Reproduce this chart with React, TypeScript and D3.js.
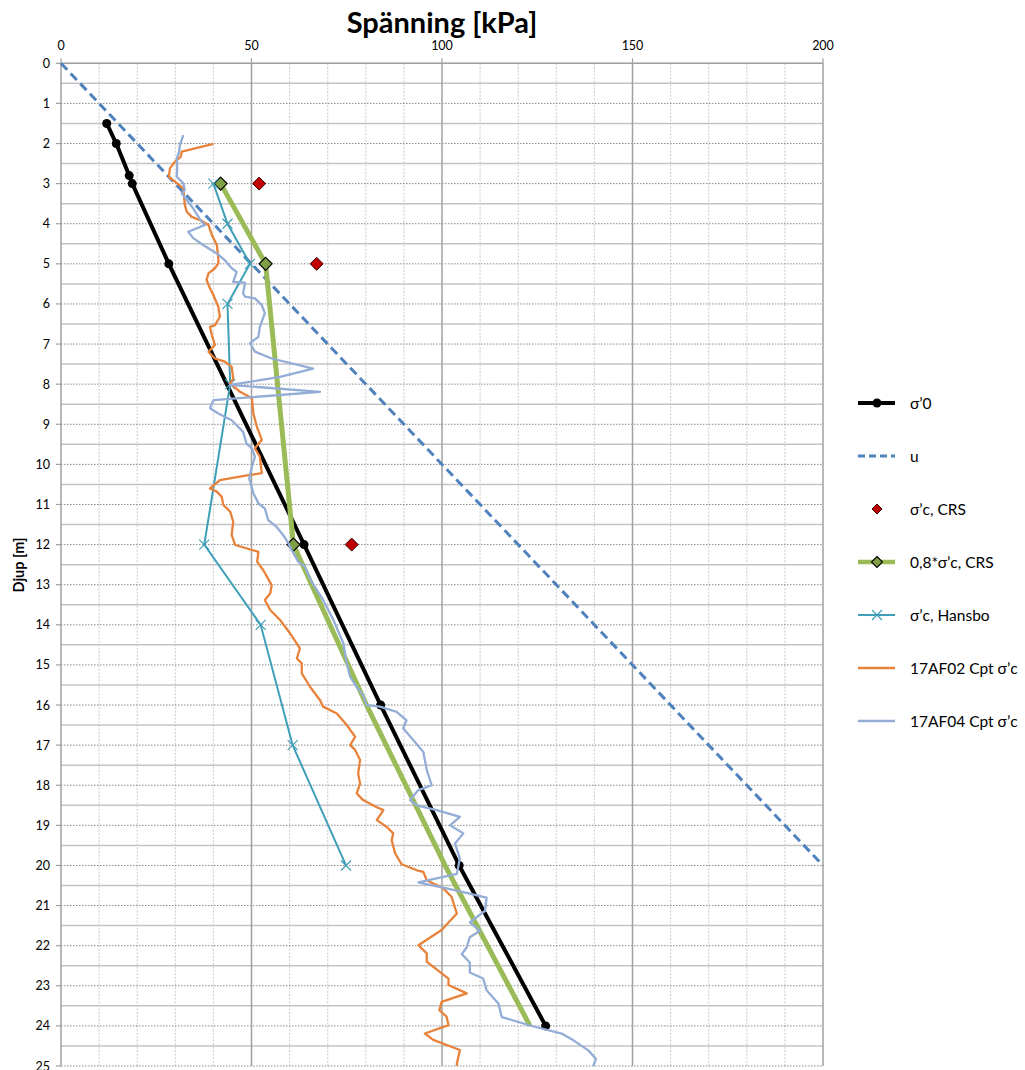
import * as d3 from "d3";

// values (kPa vs depth m)
const kpaTicks = [0, 50, 100, 150, 200];
const depthTicks = d3.range(0, 26);

const sigma0Depth = [1.5, 2, 2.8, 3, 5, 12, 16, 20, 24];
const sigma0Kpa = [12.0, 14.5, 17.9, 18.7, 28.3, 63.8, 83.9, 104.5, 127.2];

const uDepth = [0, 20];
const uKpa = [0, 200];

const crsDepth = [3, 5, 12];
const crsKpa = [52.0, 67.1, 76.3];

const crs08Depth = [3, 5, 12, 16, 20, 24];
const crs08Kpa = [41.9, 53.7, 61.0, 80.2, 100.8, 123.1];
const crs08Markers = [true, true, true, false, false, false];

const hansboDepth = [3, 4, 5, 6, 8, 12, 14, 17, 20];
const hansboKpa = [40.0, 43.7, 49.6, 43.7, 44.4, 37.6, 52.4, 60.8, 74.8];

const af02Depth = [
  2.01, 2.2, 2.33, 2.45, 2.62, 2.83, 2.95, 3.12, 3.53, 3.7, 3.83, 3.91, 4.03, 4.28, 4.53, 4.86, 4.99, 5.11,
  5.24, 5.4, 5.61, 5.78, 6.07, 6.32, 6.53, 6.57, 6.78, 7.02, 7.19, 7.36, 7.44, 7.57, 7.86, 7.98, 8.19, 8.35,
  8.73, 9.06, 9.39, 9.6, 9.81, 10.22, 10.27, 10.39, 10.6, 10.68, 10.81, 11.01, 11.18, 11.43, 11.76, 12.01,
  12.18, 12.43, 12.64, 13.01, 13.22, 13.38, 13.63, 13.88, 14.21, 14.59, 14.84, 14.96, 15.21, 15.55, 15.88,
  16.04, 16.21, 16.5, 16.79, 17.0, 17.12, 17.37, 17.71, 17.96, 18.2, 18.37, 18.55, 18.62, 18.87, 19.04, 19.2,
  19.37, 19.7, 19.97, 20.12, 20.16, 20.37, 20.57, 20.78, 21.2, 21.61, 21.99, 22.19, 22.4, 22.69, 22.82, 22.98,
  23.19, 23.4, 23.61, 23.77, 23.98, 24.19, 24.35, 24.6, 24.94, 25.0,
];
const af02Kpa = [
  40.0, 31.7, 31.4, 29.9, 28.6, 28.3, 29.9, 32.1, 32.5, 33.0, 34.3, 36.5, 38.7, 39.6, 40.9, 41.3, 41.3, 40.4,
  38.7, 38.2, 39.1, 40.0, 41.3, 41.7, 40.4, 39.1, 39.6, 40.4, 38.7, 40.4, 43.0, 44.8, 45.2, 44.4, 47.0, 50.1,
  50.5, 51.4, 52.7, 50.9, 52.2, 52.7, 49.2, 41.7, 39.1, 40.9, 42.2, 42.6, 44.4, 45.2, 44.8, 45.7,
  51.8, 51.5, 53.1, 55.3, 54.9, 53.5, 54.9, 57.5, 60.1, 62.7, 61.9, 63.2, 63.2, 65.4, 68.0,
  68.8, 72.4, 75.0, 77.2, 75.9, 77.2, 78.5, 78.0, 78.5, 77.6, 79.3, 82.9, 84.6, 82.9, 85.5, 87.2,
  86.8, 87.7, 89.4, 93.4, 95.1, 96.0, 100.3, 102.5, 103.9, 99.9, 93.8, 96.0, 96.0, 99.9, 101.7, 101.7,
  106.5, 99.9, 99.3, 101.2, 101.7, 95.5, 97.7, 104.7, 103.9, 103.9,
];

const af04Depth = [
  1.79, 2.04, 2.2, 2.37, 2.58, 2.83, 2.99, 3.16, 3.24, 3.41, 3.62, 3.95, 4.03, 4.2, 4.36, 4.53, 4.74, 4.91,
  5.11, 5.2, 5.45, 5.47, 5.74, 5.82, 5.86, 6.03, 6.23, 6.57, 6.82, 6.98, 7.19, 7.36, 7.61, 7.82, 8.02, 8.19,
  8.4, 8.6, 8.73, 8.9, 9.19, 9.48, 9.6, 9.81, 10.06, 10.35, 10.72, 10.97, 11.1, 11.39, 11.56, 11.76, 11.97,
  12.06, 12.43, 12.55, 12.93, 13.38, 13.88, 14.46, 14.96, 15.3, 15.55, 15.75, 16.0, 16.04, 16.17, 16.38,
  16.58, 16.88, 17.17, 17.62, 18.0, 18.12, 18.37, 18.5, 18.62, 18.79, 19.0, 19.2, 19.45, 19.83, 20.21, 20.42,
  20.63, 20.8, 21.13, 21.42, 21.63, 21.79, 22.04, 22.21, 22.42, 22.67, 22.82, 23.11, 23.44, 23.78, 23.99,
  24.19, 24.36, 24.61, 24.82, 25.0,
];
const af04Kpa = [
  32.1, 31.2, 31.0, 30.4, 30.5, 30.4, 32.1, 32.5, 31.7, 33.0, 34.7, 36.9, 37.8, 33.4, 34.7, 37.3, 40.9, 43.0,
  44.8, 46.1, 45.2, 48.3, 47.8, 48.3, 50.9, 52.7, 53.5, 52.2, 51.8, 49.6, 50.9, 55.3, 66.2, 57.5, 44.4, 68.0,
  40.0, 39.1, 41.3, 44.8, 47.8, 48.7, 50.1, 50.9, 50.1, 49.4, 50.5, 51.8, 53.5, 54.4, 56.6, 58.3, 59.7,
  60.1, 62.3, 64.0, 65.8, 68.8, 71.5, 74.1, 75.0, 75.9, 77.6, 79.3, 80.2, 83.7, 88.1, 90.7,
  89.8, 92.5, 95.1, 96.0, 97.3, 93.8, 91.6, 93.4, 98.6, 104.7, 102.1, 105.6, 103.4, 104.7, 103.9, 93.8,
  103.9, 111.7, 111.3, 107.3, 110.0, 107.3, 106.5, 105.2, 107.3, 107.3, 110.8, 111.7, 114.8, 115.7, 123.1,
  131.4, 134.5, 138.4, 140.4, 139.7,
];

const legendLabels = [
  "σ’0",
  "u",
  "σ’c, CRS",
  "0,8*σ’c, CRS",
  "σ’c, Hansbo",
  "17AF02 Cpt σ’c",
  "17AF04 Cpt σ’c",
];

const C_BLACK = "#000000";
const C_U = "#4f81bd";
const C_RED = "#c00000";
const C_GREEN = "#9bbb59";
const C_GREEN_MK = "#7f9f45";
const C_TEAL = "#3f9fb8";
const C_ORANGE = "#e8823a";
const C_LBLUE = "#93add6";

const FONT = "Lato, 'Open Sans', sans-serif";

const zip = (d: number[], k: number[]) => d.map((v, i) => ({ depth: v, kpa: k[i] }));

const diamond = (cx: number, cy: number, r: number) =>
  `M${cx},${cy - r}L${cx + r},${cy}L${cx},${cy + r}L${cx - r},${cy}Z`;

const cross = (cx: number, cy: number, r: number) =>
  `M${cx - r},${cy - r}L${cx + r},${cy + r}M${cx - r},${cy + r}L${cx + r},${cy - r}`;

export default function App() {
  const x = d3.scaleLinear().domain([0, 200]).range([61, 823]);
  const y = d3.scaleLinear().domain([0, 25]).range([63.3, 1066]);

  const line = d3
    .line<{ depth: number; kpa: number }>()
    .x((d) => x(d.kpa))
    .y((d) => y(d.depth));

  const sigma0 = zip(sigma0Depth, sigma0Kpa);
  const u = zip(uDepth, uKpa);
  const crs = zip(crsDepth, crsKpa);
  const crs08 = zip(crs08Depth, crs08Kpa);
  const hansbo = zip(hansboDepth, hansboKpa);
  const af02 = zip(af02Depth, af02Kpa);
  const af04 = zip(af04Depth, af04Kpa);

  const minorX = d3.range(0, 201, 10).filter((v) => v % 50 !== 0);
  const halfY = d3.range(0.5, 25, 1);

  // legend layout
  const legX0 = 858;
  const legX1 = 895;
  const legMid = 877;
  const legTextX = 910;
  const legY = (i: number) => 403 + i * 53;

  return (
    <svg
      width={1025}
      height={1070}
      style={{ position: "absolute", left: 0, top: 0, background: "#fff" }}
      fontFamily={FONT}
    >
      <rect x={0} y={0} width={1025} height={1070} fill="#fff" />

      {/* grid */}
      {minorX.map((v) => (
        <line key={"mx" + v} x1={x(v)} x2={x(v)} y1={y(0)} y2={y(25)} stroke="#d2d2d2" strokeWidth={1.2} strokeDasharray="2,1.5" />
      ))}
      {halfY.map((v) => (
        <line key={"hy" + v} x1={x(0)} x2={x(200)} y1={y(v)} y2={y(v)} stroke="#c4c4c4" strokeWidth={1.5} />
      ))}
      {depthTicks.map((v) => (
        <line key={"iy" + v} x1={x(0)} x2={x(200)} y1={y(v)} y2={y(v)} stroke="#8a8a8a" strokeWidth={1} strokeDasharray="1.5,1.5" />
      ))}
      {kpaTicks.map((v) => (
        <line key={"Mx" + v} x1={x(v)} x2={x(v)} y1={y(0)} y2={y(25)} stroke="#a0a0a0" strokeWidth={1.5} />
      ))}
      <line x1={x(0)} x2={x(200)} y1={y(0)} y2={y(0)} stroke="#a0a0a0" strokeWidth={1.5} />

      {/* axis ticks */}
      {depthTicks.map((v) => (
        <line key={"ty" + v} x1={x(0) - 5} x2={x(0)} y1={y(v)} y2={y(v)} stroke="#a0a0a0" strokeWidth={1.2} />
      ))}
      {kpaTicks.map((v) => (
        <line key={"tx" + v} x1={x(v)} x2={x(v)} y1={y(0) - 5} y2={y(0)} stroke="#a0a0a0" strokeWidth={1.2} />
      ))}

      {/* tick labels */}
      {kpaTicks.map((v) => (
        <text key={"lx" + v} x={x(v)} y={50} textAnchor="middle" fontSize={12.5} fill="#000">
          {v}
        </text>
      ))}
      {depthTicks.map((v) => (
        <text key={"ly" + v} x={50} y={y(v) + 4.5} textAnchor="end" fontSize={12.5} fill="#000">
          {v}
        </text>
      ))}

      {/* titles */}
      <text x={442} y={33} textAnchor="middle" fontSize={29} fontWeight="bold" fill="#000">
        Spänning [kPa]
      </text>
      <text
        transform={`translate(24, ${565}) rotate(-90)`}
        textAnchor="middle"
        fontSize={14.5}
        fontWeight="bold"
        fill="#000"
      >
        Djup [m]
      </text>

      {/* σ'0 */}
      <path d={line(sigma0) ?? ""} fill="none" stroke={C_BLACK} strokeWidth={4} strokeLinejoin="round" />
      {sigma0.map((d, i) => (
        <circle key={"s0" + i} cx={x(d.kpa)} cy={y(d.depth)} r={4.5} fill={C_BLACK} />
      ))}

      {/* u */}
      <path d={line(u) ?? ""} fill="none" stroke={C_U} strokeWidth={3} strokeDasharray="9,5" />

      {/* σ'c CRS */}
      {crs.map((d, i) => (
        <path key={"crs" + i} d={diamond(x(d.kpa), y(d.depth), 6.5)} fill={C_RED} stroke="#3a0000" strokeWidth={1} />
      ))}

      {/* 0,8*σ'c CRS */}
      <path d={line(crs08) ?? ""} fill="none" stroke={C_GREEN} strokeWidth={5} strokeLinejoin="round" />
      {crs08.map((d, i) =>
        crs08Markers[i] ? (
          <path key={"c08" + i} d={diamond(x(d.kpa), y(d.depth), 6.5)} fill={C_GREEN_MK} stroke="#000" strokeWidth={1.2} />
        ) : null
      )}

      {/* Hansbo */}
      <path d={line(hansbo) ?? ""} fill="none" stroke={C_TEAL} strokeWidth={2} />
      {hansbo.map((d, i) => (
        <path key={"hb" + i} d={cross(x(d.kpa), y(d.depth), 5)} fill="none" stroke={C_TEAL} strokeWidth={1.2} />
      ))}

      {/* CPT */}
      <path d={line(af02) ?? ""} fill="none" stroke={C_ORANGE} strokeWidth={2.3} strokeLinejoin="round" />
      <path d={line(af04) ?? ""} fill="none" stroke={C_LBLUE} strokeWidth={2.3} strokeLinejoin="round" />

      {/* legend */}
      <g fontSize={15.5} fill="#000">
        <line x1={legX0} x2={legX1} y1={legY(0)} y2={legY(0)} stroke={C_BLACK} strokeWidth={4} />
        <circle cx={legMid} cy={legY(0)} r={4.5} fill={C_BLACK} />

        <line x1={legX0} x2={legX1} y1={legY(1)} y2={legY(1)} stroke={C_U} strokeWidth={3} strokeDasharray="7,4" />

        <path d={diamond(legMid, legY(2), 5)} fill={C_RED} stroke="#3a0000" strokeWidth={1} />

        <line x1={legX0} x2={legX1} y1={legY(3)} y2={legY(3)} stroke={C_GREEN} strokeWidth={4.5} />
        <path d={diamond(legMid, legY(3), 5.5)} fill={C_GREEN_MK} stroke="#000" strokeWidth={1.1} />

        <line x1={legX0} x2={legX1} y1={legY(4)} y2={legY(4)} stroke={C_TEAL} strokeWidth={2} />
        <path d={cross(legMid, legY(4), 5)} fill="none" stroke={C_TEAL} strokeWidth={1.2} />

        <line x1={legX0} x2={legX1} y1={legY(5)} y2={legY(5)} stroke={C_ORANGE} strokeWidth={2.3} />
        <line x1={legX0} x2={legX1} y1={legY(6)} y2={legY(6)} stroke={C_LBLUE} strokeWidth={2.3} />

        {legendLabels.map((t, i) => (
          <text key={"lg" + i} x={legTextX} y={legY(i) + 5.5}>
            {t}
          </text>
        ))}
      </g>
    </svg>
  );
}
